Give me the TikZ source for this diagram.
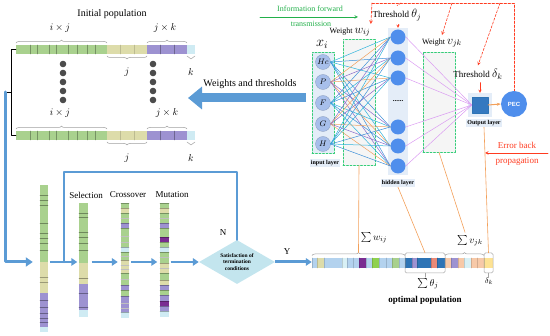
\documentclass[tikz,border=0pt]{standalone}
\usepackage{fontspec}
\setmainfont{Liberation Serif}
\setsansfont{Liberation Sans}
\usetikzlibrary{arrows.meta,shapes.geometric,positioning,decorations.pathreplacing,calc}

\definecolor{gnA}{HTML}{A9D18E}
\definecolor{ylA}{HTML}{DDDCAA}
\definecolor{ppA}{HTML}{9D92D1}
\definecolor{lbA}{HTML}{CFEBF3}
\definecolor{ppB}{HTML}{7A2D91}
\definecolor{bluA}{HTML}{5B9BD5}
\definecolor{hdC}{HTML}{4F8EEC}
\definecolor{inC}{HTML}{A7BFEB}
\definecolor{bgL}{HTML}{E4EDF8}
\definecolor{dgrn}{HTML}{33CC77}
\definecolor{grnT}{HTML}{22B04A}
\definecolor{redA}{HTML}{FF3B20}
\definecolor{orgA}{HTML}{F3A05A}
\definecolor{pnkA}{HTML}{DB9CF2}
\definecolor{cndC}{HTML}{C3E5EE}
\definecolor{lc0}{HTML}{F0A060}
\definecolor{lc1}{HTML}{3E8FD8}
\definecolor{lc2}{HTML}{8A6CCB}
\definecolor{lc3}{HTML}{2DB3DC}
\definecolor{oLb}{HTML}{B3D2EE}
\definecolor{oDb}{HTML}{2E74B5}
\definecolor{oSa}{HTML}{E98A78}
\definecolor{oPe}{HTML}{F7C9A8}
\definecolor{oYe}{HTML}{FDE293}
\definecolor{oGn}{HTML}{8FD14F}
\definecolor{oLc}{HTML}{D8F0F5}
\definecolor{oGs}{HTML}{A8D08D}

\newcommand{\genrow}[1]{%
	\fill[gnA] (16,#1) rectangle (107,#1+9);
	\fill[ylA] (107,#1) rectangle (147,#1+9);
	\fill[ppA] (147,#1) rectangle (187,#1+9);
	\fill[lbA] (187,#1) rectangle (195,#1+9);
	\foreach \x in {30,37,49,56,68,77,87,95}
	\draw[gnA!70!black,line width=0.35pt] (\x,#1)--(\x,#1+9);
	\foreach \x in {120,134}
	\draw[ylA!85!black,line width=0.3pt] (\x,#1)--(\x,#1+9);
	\foreach \x in {160,174}
	\draw[ppA!70!black,line width=0.35pt] (\x,#1)--(\x,#1+9);
	\draw[brc] (16,#1-2) -- (107,#1-2);
	\draw[brc] (147,#1-2) -- (187,#1-2);
	\draw[brc] (147,#1+11) -- (107,#1+11);
	\draw[brc] (195,#1+11) -- (187,#1+11);
}

\begin{document}
\begin{tikzpicture}[x=1pt,y=-1pt,line join=round,line cap=round,>=stealth,
	brc/.style={decorate,decoration={brace,amplitude=3pt},draw=gray!75,line width=0.5pt},
	flow/.style={draw=bluA,line width=2.2pt,line cap=butt,-{Triangle[length=6pt,width=7.5pt]}},
	inp/.style={circle,fill=inC,draw=inC!80!black,line width=0.3pt,minimum size=15pt,inner sep=0pt,font=\footnotesize},
	hid/.style={circle,fill=hdC,minimum size=15pt,inner sep=0pt},
	lyr/.style={fill=bgL,font=\fontsize{6}{7}\selectfont\bfseries,inner sep=1.2pt},
	wbox/.style={draw=dgrn,dash pattern=on 2pt off 1.5pt,fill=gray!8,line width=0.7pt,inner sep=0pt},
	rdash/.style={draw=redA,dash pattern=on 2.5pt off 1.5pt,line width=0.6pt},
	orl/.style={draw=orgA,line width=0.6pt},
	colbar/.style={inner sep=0pt,minimum width=8pt}]
	\useasboundingbox (0,0) rectangle (550,336);
	
	%% initial population
	\node (ini) at (112,14) {Initial population};
	\genrow{45}
	\genrow{131}
	\node (ij1) at (60,28) {$i\times j$};
	\node (jk1) at (165,28) {$j\times k$};
	\node (j1) at (127,72) {$j$};
	\node (k1) at (191,72) {$k$};
	\node (ij2) at (60,113) {$i\times j$};
	\node (jk2) at (167,113) {$j\times k$};
	\node (j2) at (127,158) {$j$};
	\node (k2) at (191,158) {$k$};
	\foreach \x in {63,153}
	\foreach \y in {64,73,...,100}
	\fill[black!70] (\x,\y) circle (3.3);
	\draw[line width=0.5pt] (16,49.5) -- (11,49.5) -- (11,135.5) -- (16,135.5);
	\draw[line width=0.5pt] (5,92) -- (11,92);
	
	%% weights and thresholds
	\coordinate (wa) at (306,98);
	\coordinate (wb) at (188,98);
	\draw[bluA,line width=9pt,line cap=butt,-{Triangle[length=14pt,width=22pt]}] (wa) -- (wb);
	\node (wt) at (250,84) {Weights and thresholds};
	
	%% GA columns
	\node[colbar,minimum height=147pt] (col1) at (44,258.5) {};
	\node[colbar,minimum height=114pt] (col2) at (83.5,260) {};
	\node[colbar,minimum height=115pt] (col3) at (125,260.5) {};
	\node[colbar,minimum height=115pt] (col4) at (164.5,260.5) {};
	\foreach \a/\b/\c in {185/262/gnA,262/293/ylA,293/327/ppA,327/332/lbA}
	\fill[\c] (40,\a) rectangle (48,\b);
	\foreach \y in {195,200,205,223,233,238,243,250}
	\draw[gnA!65!black,line width=0.35pt] (40,\y) -- (48,\y);
	\foreach \y in {277,282}
	\draw[ylA!70!black,line width=0.35pt] (40,\y) -- (48,\y);
	\foreach \y in {300,307,313,318,322}
	\draw[ppA!65!black,line width=0.35pt] (40,\y) -- (48,\y);
	\foreach \a/\b/\c in {203/263/gnA,263/284/ylA,284/310/ppA,310/317/lbA}
	\fill[\c] (79,\a) rectangle (88,\b);
	\foreach \y/\c in {213/gnA,217/gnA,232/gnA,237/gnA,243/gnA,250/gnA,278/ylA,293/ppA,307/ppA}
	\draw[\c!65!black,line width=0.35pt] (79,\y) -- (88,\y);
	\foreach \a/\b/\c in {203/208/gnA,208/213/ylA,213/223/gnA,223/228/ppA,228/247/gnA,247/252/lbA,252/260/gnA,260/273/ylA,273/285/gnA,285/290/ppA,290/296/gnA,296/312/ppA,312/318/lbA}{
		\fill[\c] (121,\a) rectangle (129,\b);
		\draw[\c!70!black,line width=0.3pt] (121,\a) -- (129,\a);}
	\foreach \y in {218,236,242,256,265,269,279,303,308}
	\draw[black!25,line width=0.3pt] (121,\y) -- (129,\y);
	\foreach \a/\b/\c in {203/208/gnA,208/213/ylA,213/223/gnA,223/228/ppA,228/237/gnA,237/242/ppB,242/247/gnA,247/252/lbA,252/263/gnA,263/273/ylA,273/280/gnA,280/285/ylA,285/290/ppA,290/295/gnA,295/301/ppA,301/306/ppB,306/311/ppA,311/317/lbA}{
		\fill[\c] (160,\a) rectangle (169,\b);
		\draw[\c!70!black,line width=0.3pt] (160,\a) -- (169,\a);}
	\foreach \y in {218,257,268}
	\draw[black!25,line width=0.3pt] (160,\y) -- (169,\y);
	\node[font=\small] (sel) at (86,195) {Selection};
	\node[font=\small] (cro) at (128,195) {Crossover};
	\node[font=\small] (mut) at (172,195) {Mutation};
	
	\node[diamond,fill=cndC,minimum width=76pt,minimum height=44pt,inner sep=0pt] (cond) at (237,262) {};
	\node[font=\fontsize{5.5}{6.5}\selectfont\bfseries,align=center] (condt) at (cond) {Satisfaction of\\termination\\conditions};
	\coordinate (lp) at (64,172);
	\coordinate (st) at (5,92);
	
	\draw[bluA,line width=3pt,-{Triangle[length=7pt,width=9pt]}] (st) -- (st |- cond) -- ([xshift=-7pt]col1.west |- cond);
	\draw[flow] ([xshift=2pt]col1.east |- cond) -- ([xshift=-2pt]col2.west |- cond);
	\draw[bluA,line width=2.2pt] (cond.north) |- (lp) -- (lp |- cond);
	\draw[flow] ([xshift=4pt]col2.east |- cond) -- ([xshift=-3pt]col3.west |- cond);
	\draw[flow] ([xshift=2pt]col3.east |- cond) -- ([xshift=-3pt]col4.west |- cond);
	\draw[flow] ([xshift=2pt]col4.east |- cond) -- (cond.west);
	\node[font=\small] (nl) at (223,233) {N};
	\node[font=\small] (yl) at (287,252) {Y};
	
	%% optimal population
	\node[inner sep=0pt,minimum width=181pt,minimum height=10pt] (optbar) at (402.5,263) {};
	\draw[flow,line width=3pt] (cond.east) -- (cond.east -| optbar.west);
	\foreach \a/\b/\c in {312/317/oLb,317/324/ylA,324/342/oLb,342/347/oLc,347/353/oLb,353/359/oLb,359/366/ppB,366/372/oLb,372/379/oGn,379/386/oLb,386/392/oLb,392/399/oGs,399/405/oLb,405/412/oDb,412/417/ppA,417/431/oDb,431/437/oSa,437/445/oDb,445/451/oPe,451/458/ppA,458/464/oPe,464/471/oLc,471/477/oPe,477/484/oPe,484/493/oYe}{
		\fill[\c] (\a,258) rectangle (\b,268);
		\draw[\c!85!black,line width=0.2pt] (\a,258) -- (\a,268);}
	\draw[brc] (312,255.5) -- (405,255.5);
	\draw[brc] (445,255.5) -- (484,255.5);
	\node[draw=gray!70,rounded corners=1.5pt,minimum width=40pt,minimum height=20pt,inner sep=0pt,line width=0.5pt] (thbox) at (425,263) {};
	\node[draw=gray!70,rounded corners=1.5pt,minimum width=9pt,minimum height=20pt,inner sep=0pt,line width=0.5pt] (dkbox) at (488.5,263) {};
	\draw[gray!70,line width=0.5pt] (thbox.south) -- ++(0,4) (dkbox.south) -- ++(0,4);
	\coordinate (sw) at (358.5,252.5);
	\node (sumw) at (374,238) {$\sum w_{ij}$};
	\node (sumv) at (470,241) {$\sum v_{jk}$};
	\node (sumt) at (428,284) {$\sum\theta_j$};
	\node (dk) at (489,281) {\footnotesize$\delta_k$};
	\node[font=\small\bfseries] (optlab) at (425,300) {optimal population};
	
	%% BP network
	\node[wbox,minimum width=32pt,minimum height=126pt] (wbx) at (359,102) {};
	\node[wbox,minimum width=32pt,minimum height=100pt] (vbx) at (439,102) {};
	\node[wbox,fill=bgL,minimum width=22pt,minimum height=101pt] (inlay) at (323,102.5) {};
	\node[fill=bgL,inner sep=0pt,minimum width=20pt,minimum height=147pt] (hdlay) at (398,101.5) {};
	\foreach \n/\t/\y in {1/Hc/62,2/P/82,3/F/103,4/G/124,5/H/144}
	\node[inp] (in\n) at (323,\y) {$\t$};
	\foreach \n/\y in {1/37,2/58,3/78,4/127,5/146,6/166}
	\node[hid] (hd\n) at (398,\y) {};
	\node[font=\scriptsize\bfseries] (hdots) at (398,101) {......};
	\node[fill=bgL,inner sep=0pt,minimum size=24pt] (outbg) at (480,105) {};
	\node[fill=oDb!80!hdC,draw=oDb,inner sep=0pt,minimum size=16pt] (out) at (480,105) {};
	\node[circle,fill=hdC,minimum size=26pt,inner sep=0pt,text=white,font=\sffamily\bfseries\fontsize{6}{7}\selectfont] (pec) at (514,104) {PEC};
	\foreach \i in {1,...,5}
	\foreach \j in {1,...,6}{
		\pgfmathtruncatemacro\c{mod(\i+2*\j,4)}
		\draw[lc\c,line width=0.5pt] (in\i.east) -- (hd\j.west);}
	\foreach \j in {1,...,6}
	\draw[pnkA,line width=0.5pt] (hd\j.east) -- (out.west);
	\draw[orgA,line width=1pt,-{Stealth[length=4pt]}] (out.east) -- (pec.west);
	
	\node[lyr] (inlab) at (325,163) {input layer};
	\node[lyr] (hdlab) at (398,183) {hidden layer};
	\node[lyr] (outlab) at (484,123) {Output layer};
	\node[font=\Large] (xi) at (322,44) {$x_i$};
	\node[font=\footnotesize] (wlab) at (350,32) {Weight \large$w_{ij}$};
	\node[font=\footnotesize] (vlab) at (442,43) {Weight \large$v_{jk}$};
	\node[font=\small] (thj) at (397,15) {Threshold \large$\theta_j$};
	\node[font=\small] (thk) at (478,74) {Threshold \large$\delta_k$};
	\draw[redA,->] (thj.south -| hdlay) -- (hdlay.north);
	\draw[redA,->] (thk.south -| out) -- (outbg.north);
	
	\coordinate (r0) at (372,3);
	\coordinate (r1) at (514,3);
	\draw[rdash] (r0) -- (r1) -- (pec.north);
	\draw[rdash,->] (r0) -- ([xshift=-3pt]wlab.north east);
	\draw[rdash] (401,3) -- (thj.north);
	\draw[rdash,->] (452,3) -- (vlab.north);
	\draw[rdash,->] (500,3) -- (thk.north);
	
	\node[grnT,font=\footnotesize] (inf1) at (310,9) {Information forward};
	\node[grnT,font=\footnotesize] (inf2) at (311,24) {transmission};
	\coordinate (ia) at (260,17);
	\coordinate (ib) at (358,17);
	\draw[grnT,line width=0.6pt,->] (ia) -- (ib);
	
	\node[redA,font=\small] (eb1) at (517,145) {Error back};
	\node[redA,font=\small] (eb2) at (517,161) {propagation};
	\coordinate (ea) at (548,153);
	\coordinate (eb) at (485,153);
	\draw[redA,line width=0.6pt,->] (ea) -- (eb);
	
	\draw[orl] (wbx.south) -- (sw);
	\draw[orl] (hdlab.south) -- (thbox.north);
	\draw[orl] (vbx.south) -- ([xshift=-5pt]sumv.north);
	\draw[orl] (outlab.south) -- (dkbox.north);
\end{tikzpicture}
\end{document}
